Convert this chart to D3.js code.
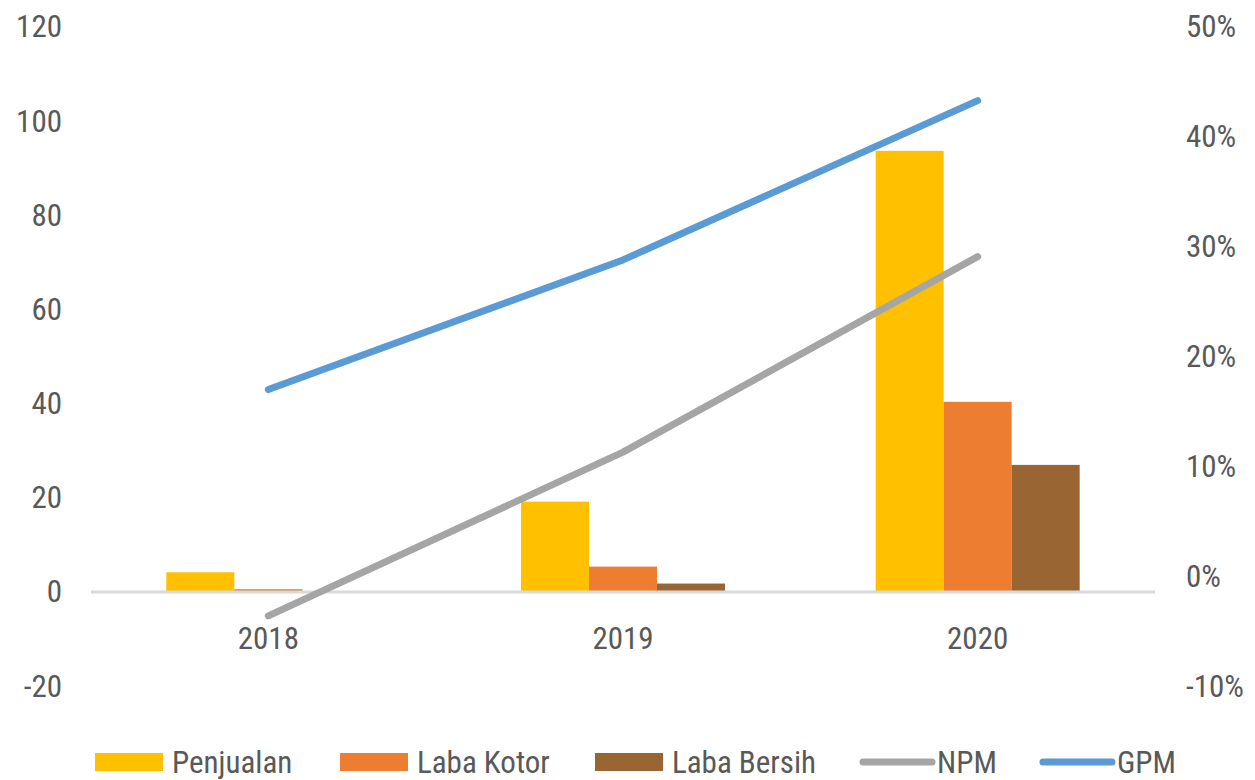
<!DOCTYPE html>
<html>
<head>
<meta charset="utf-8">
<script src="https://cdn.jsdelivr.net/npm/d3@7"></script>
<style>
  html, body { margin: 0; padding: 0; background: #fff; }
  svg text { font-family: "Liberation Sans Narrow", "Roboto Condensed", "Open Sans", sans-serif; fill: #595959; }
</style>
</head>
<body>
<svg id="chart" width="1255" height="780"></svg>
<script>
const categories = ["2018", "2019", "2020"];
const barSeries = ["Penjualan", "Laba Kotor", "Laba Bersih"];
const penjualan = [4.2, 19.2, 93.7];
const labaKotor = [0.6, 5.4, 40.4];
const labaBersih = [0, 1.8, 27.0];
const lineSeries = ["NPM", "GPM"];
const npm = [-0.036, 0.113, 0.291];
const gpm = [0.170, 0.288, 0.433];
const leftTicks = [-20, 0, 20, 40, 60, 80, 100, 120];
const rightTicks = [-0.1, 0, 0.1, 0.2, 0.3, 0.4, 0.5];

const barColors = ["#FFC000", "#ED7D31", "#996633"];
const lineColors = { NPM: "#A5A5A5", GPM: "#5B9BD5" };
const barValues = [penjualan, labaKotor, labaBersih];
const FS = 31;

const svg = d3.select("#chart");

const x = d3.scaleBand().domain(categories).range([91, 1155]).paddingInner(0).paddingOuter(0);
const yL = d3.scaleLinear().domain([-20, 120]).range([686.2, 27]);
const yR = d3.scaleLinear().domain([-0.1, 0.5]).range([686.2, 27]);
const barW = 68;
const xs = d3.scaleBand().domain(barSeries).range([0, barW * 3]);

const hy = s => s.replace("\u2212", "-");

// left axis labels
const leftAxis = d3.axisLeft(yL).tickValues(leftTicks).tickSize(0).tickPadding(0).tickFormat(d => hy(d3.format("d")(d)));
const gl = svg.append("g").attr("transform", "translate(62,0)").call(leftAxis);
gl.select(".domain").remove();
gl.selectAll("text").attr("font-size", FS).attr("fill", "#595959");

// right axis labels
const rightAxis = d3.axisRight(yR).tickValues(rightTicks).tickSize(0).tickPadding(0).tickFormat(d => hy(d3.format(".0%")(d)));
const gr = svg.append("g").attr("transform", "translate(1186,0)").call(rightAxis);
gr.select(".domain").remove();
gr.selectAll("text").attr("font-size", FS).attr("fill", "#595959");

// bars
const groups = svg.append("g").selectAll("g").data(categories).join("g")
  .attr("transform", d => `translate(${x(d) + x.bandwidth() / 2 - barW * 1.5},0)`);
barSeries.forEach((s, si) => {
  groups.append("rect")
    .attr("x", xs(s))
    .attr("width", xs.bandwidth())
    .attr("y", (d, i) => Math.min(yL(barValues[si][i]), yL(0)))
    .attr("height", (d, i) => Math.abs(yL(barValues[si][i]) - yL(0)))
    .attr("fill", barColors[si]);
});

// zero axis line
svg.append("line").attr("x1", 91).attr("x2", 1155).attr("y1", yL(0)).attr("y2", yL(0))
  .attr("stroke", "#D9D9D9").attr("stroke-width", 3);

// x axis labels
const xAxis = d3.axisBottom(x).tickSize(0).tickPadding(0);
const gx = svg.append("g").attr("transform", "translate(0,638)").call(xAxis);
gx.select(".domain").remove();
gx.selectAll("text").attr("font-size", FS).attr("fill", "#595959").attr("dy", "0.35em");

// lines
const lineGen = d3.line().x((d, i) => x(categories[i]) + x.bandwidth() / 2).y(d => yR(d));
[["NPM", npm], ["GPM", gpm]].forEach(([name, vals]) => {
  svg.append("path").datum(vals).attr("d", lineGen)
    .attr("fill", "none").attr("stroke", lineColors[name]).attr("stroke-width", 7)
    .attr("stroke-linecap", "round").attr("stroke-linejoin", "round");
});

// legend
const legY = 762;
const legendItems = [
  { name: "Penjualan", type: "bar", color: barColors[0], x: 95 },
  { name: "Laba Kotor", type: "bar", color: barColors[1], x: 340 },
  { name: "Laba Bersih", type: "bar", color: barColors[2], x: 595 },
  { name: "NPM", type: "line", color: lineColors.NPM, x: 860 },
  { name: "GPM", type: "line", color: lineColors.GPM, x: 1040 }
];
const lg = svg.append("g");
legendItems.forEach(it => {
  if (it.type === "bar") {
    lg.append("rect").attr("x", it.x).attr("y", legY - 9).attr("width", 68).attr("height", 18).attr("fill", it.color);
  } else {
    lg.append("line").attr("x1", it.x + 3).attr("x2", it.x + 72).attr("y1", legY).attr("y2", legY)
      .attr("stroke", it.color).attr("stroke-width", 7).attr("stroke-linecap", "round");
  }
  lg.append("text").attr("x", it.x + 77).attr("y", legY).attr("dy", "0.35em").attr("font-size", FS).text(it.name);
});
</script>
</body>
</html>
